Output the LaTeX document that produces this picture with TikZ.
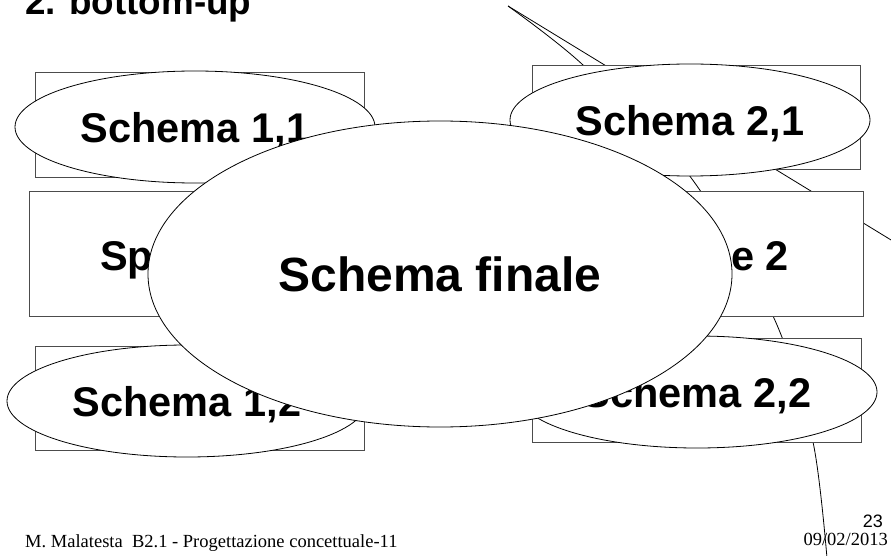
\documentclass[tikz,border=0pt]{standalone}
\usepackage{fontspec}
\setmainfont{Liberation Serif}
\setsansfont{Liberation Sans}
\usetikzlibrary{shapes.geometric}

\begin{document}
\begin{tikzpicture}[x=1pt,y=-1pt,
  frame/.style={draw=black!70,line width=1pt,fill=white},
  blob/.style={ellipse,draw,line width=0.8pt,fill=white,inner sep=0pt,text depth=0pt,
    minimum width=360pt,minimum height=112pt,
    font=\sffamily\bfseries\fontsize{41.5}{48}\selectfont},
  stray/.style={line width=0.8pt}]
\useasboundingbox (0,0) rectangle (891,556);
\clip (0,0) rectangle (891,556);
% title and footer
\node[anchor=base west,inner sep=0pt,font=\sffamily\bfseries\fontsize{36.8}{42}\selectfont] (title) at (25,15) {2. bottom-up};
\node[anchor=base west,inner sep=0pt,font=\fontsize{18.5}{22}\selectfont] (foot) at (25,547) {M. Malatesta~ B2.1 - Progettazione concettuale-11};
\node[anchor=base east,inner sep=0pt,font=\sffamily\fontsize{18}{22}\selectfont] (page) at (883,527) {23};
\node[anchor=base east,inner sep=0pt,font=\fontsize{18.5}{22}\selectfont] (date) at (888,545) {09/02/2013};
% stray strokes
\coordinate (apex) at (508,6);
\coordinate (exit) at (905,248.5);
\draw[stray] (apex) -- (exit);
\draw[stray] plot[smooth] coordinates {(508,6) (583,65) (689,175) (773,316) (813,442) (828,570)};
% boxes
\draw[frame] (199.5,125.5) +(-164.5,-52.5) rectangle ++(164.5,52.5);
\draw[frame] (696,118) +(-164,-52) rectangle ++(164,52);
\draw[frame] (194.5,254) +(-165.5,-62) rectangle ++(165.5,62);
\draw[frame] (696.5,254) +(-166.5,-62) rectangle ++(166.5,62);
\draw[frame] (199.5,398) +(-164.5,-52) rectangle ++(164.5,52);
\draw[frame] (696.5,390) +(-164.5,-52) rectangle ++(164.5,52);
\node[anchor=base west,inner sep=0pt,font=\sffamily\bfseries\fontsize{41.5}{48}\selectfont] (spa) at (100,270) {Sp};
\node[anchor=base east,inner sep=0pt,font=\sffamily\bfseries\fontsize{41.5}{48}\selectfont] (spb) at (789,270) {e 2};
% schemas
\node[blob] (s11) at (195,127) {Schema 1,1};
\node[blob] (s21) at (690,120) {Schema 2,1};
\node[blob] (s12) at (187,401) {Schema 1,2};
\node[blob] (s22) at (697,392) {Schema 2,2};
\node[blob,minimum width=584pt,minimum height=306pt,font=\sffamily\bfseries\fontsize{48}{56}\selectfont] (fin) at (440,274) {Schema finale};
\end{tikzpicture}
\end{document}
